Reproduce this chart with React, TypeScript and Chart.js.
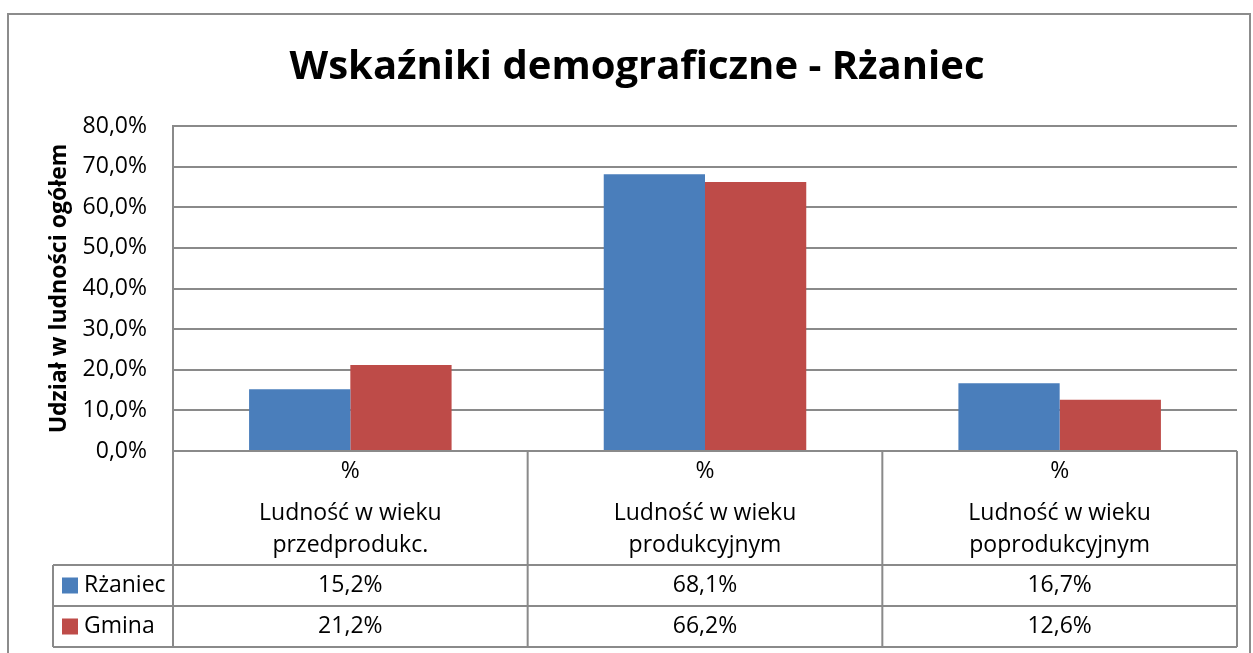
import React, { useEffect, useRef } from "react";
import { Chart, registerables } from "chart.js";

Chart.register(...registerables);

const TITLE = "Wskaźniki demograficzne - Rżaniec";
const Y_TITLE = "Udział w ludności ogółem";
const CATEGORY_UNIT = ["%", "%", "%"];
const CATEGORY_LABELS = [
  ["Ludność w wieku", "przedprodukc."],
  ["Ludność w wieku", "produkcyjnym"],
  ["Ludność w wieku", "poprodukcyjnym"],
];
const SERIES_NAMES = ["Rżaniec", "Gmina"];
const RZANIEC = [15.2, 68.1, 16.7];
const GMINA = [21.2, 66.2, 12.6];
const Y_MIN = 0;
const Y_MAX = 80;
const Y_STEP = 10;

const FONT = "'Open Sans', 'DejaVu Sans', sans-serif";
const GRID = "#8a8a8a";
const COLORS = ["#4a7ebb", "#be4b48"];

const fmt = (v: number) => v.toFixed(1).replace(".", ",") + "%";

const tablePlugin = {
  id: "dataTable",
  afterDraw(chart: any) {
    const { ctx, chartArea, scales } = chart;
    const x = scales.x;
    const left = chartArea.left;
    const right = chartArea.right;
    const top = chartArea.bottom;
    const headerBottom = top + 114;
    const rowH = 41;
    const legendLeft = 53;
    ctx.save();
    // outer border
    ctx.strokeStyle = "#8c8c8c";
    ctx.lineWidth = 2;
    ctx.strokeRect(8, 14, 1242, 660);

    ctx.strokeStyle = GRID;
    ctx.lineWidth = 2;
    ctx.beginPath();
    ctx.moveTo(left, top);
    ctx.lineTo(left, headerBottom + rowH * 2);
    const n = CATEGORY_LABELS.length;
    const step = (right - left) / n;
    for (let i = 0; i < n; i++) {
      const bx = x.getPixelForValue(i) + step / 2;
      ctx.moveTo(bx, top);
      ctx.lineTo(bx, headerBottom + rowH * 2);
    }
    ctx.moveTo(legendLeft, headerBottom);
    ctx.lineTo(legendLeft, headerBottom + rowH * 2);
    ctx.moveTo(left, top);
    ctx.lineTo(right, top);
    for (let r = 0; r <= 2; r++) {
      const yy = headerBottom + rowH * r;
      ctx.moveTo(legendLeft, yy);
      ctx.lineTo(right, yy);
    }
    ctx.stroke();

    ctx.fillStyle = "#000";
    ctx.textAlign = "center";
    ctx.textBaseline = "middle";
    ctx.font = `23px ${FONT}`;
    const series = [RZANIEC, GMINA];
    for (let i = 0; i < n; i++) {
      const cx = x.getPixelForValue(i);
      ctx.fillText(CATEGORY_UNIT[i], cx, top + 20);
      CATEGORY_LABELS[i].forEach((line, k) => {
        ctx.fillText(line, cx, top + 62 + k * 32);
      });
      series.forEach((s, r) => {
        ctx.fillText(fmt(s[i]), cx, headerBottom + rowH * r + rowH / 2);
      });
    }
    ctx.textAlign = "left";
    SERIES_NAMES.forEach((name, r) => {
      const cy = headerBottom + rowH * r + rowH / 2;
      ctx.fillStyle = COLORS[r];
      ctx.fillRect(62, cy - 8, 16, 16);
      ctx.fillStyle = "#000";
      ctx.fillText(name, 84, cy);
    });
    ctx.restore();
  },
};

export default function App() {
  const ref = useRef<HTMLCanvasElement>(null);
  useEffect(() => {
    const chart = new Chart(ref.current!, {
      type: "bar",
      data: {
        labels: CATEGORY_LABELS.map((l) => l.join(" ")),
        datasets: [
          { label: SERIES_NAMES[0], data: RZANIEC, backgroundColor: COLORS[0] },
          { label: SERIES_NAMES[1], data: GMINA, backgroundColor: COLORS[1] },
        ],
      },
      options: {
        responsive: true,
        maintainAspectRatio: false,
        animation: false,
        layout: { padding: { left: 37, right: 16, top: 0, bottom: 202 } },
        datasets: { bar: { categoryPercentage: 0.571, barPercentage: 1 } },
        plugins: {
          legend: { display: false },
          tooltip: { enabled: false },
          title: {
            display: true,
            text: TITLE,
            color: "#000",
            font: { family: FONT, size: 40, weight: "bold" },
            padding: { top: 44, bottom: 34 },
          },
        },
        scales: {
          x: { display: false },
          y: {
            min: Y_MIN,
            max: Y_MAX,
            ticks: {
              stepSize: Y_STEP,
              padding: 26,
              color: "#000",
              font: { family: FONT, size: 23 },
              callback: (v: any) => fmt(Number(v)),
            },
            grid: { color: GRID, lineWidth: 2, drawTicks: false },
            border: { color: GRID, width: 2 },
            title: {
              display: true,
              text: Y_TITLE,
              color: "#000",
              font: { family: FONT, size: 23, weight: "bold" },
              padding: { top: 9, bottom: 0 },
            },
            afterFit: (s: any) => {
              s.width = 136;
            },
          },
        },
      },
      plugins: [tablePlugin],
    });
    return () => chart.destroy();
  }, []);
  return (
    <div style={{ position: "fixed", left: 0, top: 0, width: 1253, height: 653, background: "#fff" }}>
      <canvas ref={ref} />
    </div>
  );
}
